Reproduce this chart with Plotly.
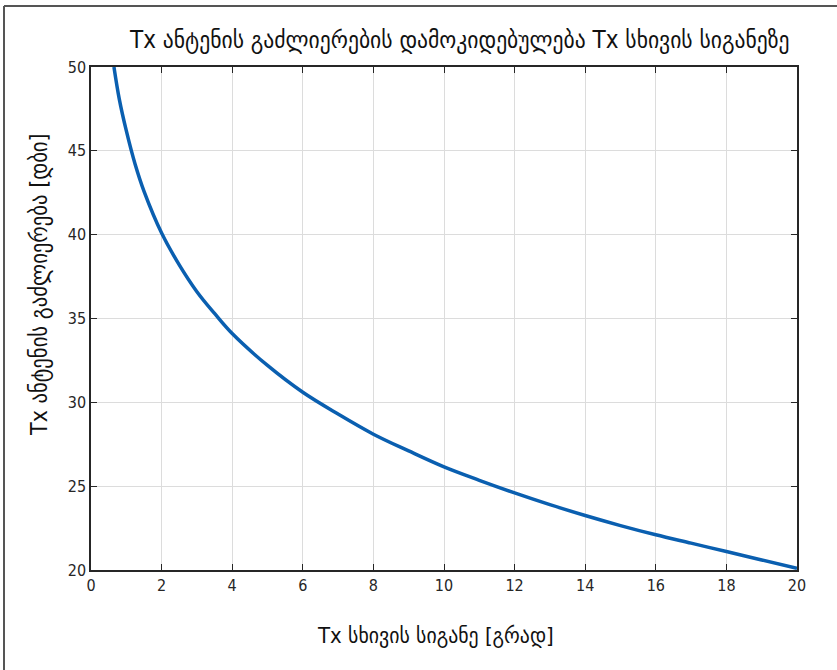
import plotly.graph_objects as go

beamwidth_deg = [0.65, 0.8, 1.0, 1.25, 1.5, 2.0, 2.5, 3.0, 3.5, 4.0, 5.0, 6.0, 7.0, 8.0,
                 9.0, 10.0, 11.0, 12.0, 13.0, 14.0, 15.0, 16.0, 17.0, 18.0, 19.0, 20.0]
gain_db = [50.0, 48.1, 46.2, 44.2, 42.6, 40.1, 38.2, 36.6, 35.3, 34.1, 32.2, 30.6, 29.3, 28.1,
           27.1, 26.15, 25.35, 24.6, 23.9, 23.25, 22.65, 22.1, 21.6, 21.1, 20.6, 20.1]

x_ticks = [0, 2, 4, 6, 8, 10, 12, 14, 16, 18, 20]
y_ticks = [20, 25, 30, 35, 40, 45, 50]

title_text = "Tx ანტენის გაძლიერების დამოკიდებულება Tx სხივის სიგანეზე"
x_title = "Tx სხივის სიგანე [გრად]"
y_title = "Tx ანტენის გაძლიერება [დბი]"

FONT = "Liberation Sans Narrow, DejaVu Sans Condensed, sans-serif"

fig = go.Figure()
fig.add_trace(go.Scatter(x=beamwidth_deg, y=gain_db, mode="lines",
                         line=dict(color="#0a5fb0", width=3.5, shape="spline", smoothing=1.0),
                         showlegend=False))

axis_common = dict(showline=True, linecolor="#262626", linewidth=1.5, mirror="ticks",
                   ticks="inside", ticklen=6, tickcolor="#262626",
                   showgrid=True, gridcolor="#dcdcdc", gridwidth=1, zeroline=False,
                   tickfont=dict(family=FONT, size=16, color="#262626"))

fig.update_xaxes(range=[0, 20], tickvals=x_ticks, **axis_common)
fig.update_yaxes(range=[20, 50], tickvals=y_ticks, **axis_common)

W, H = 837, 670
L, T = 91, 67
pw, ph = 706, 503
R = W - L - pw
B = H - T - ph

def px(xp):
    return (xp - L) / pw

def py(yp):
    return (H - B - yp) / ph

fig.update_layout(
    width=W, height=H,
    margin=dict(l=L, r=R, t=T, b=B),
    paper_bgcolor="white", plot_bgcolor="white",
    annotations=[
        dict(text=title_text, x=px(460), y=py(40), xref="paper", yref="paper",
             showarrow=False, xanchor="center", yanchor="middle",
             font=dict(family=FONT, size=24, color="#111111")),
        dict(text=x_title, x=px(435), y=py(635), xref="paper", yref="paper",
             showarrow=False, xanchor="center", yanchor="middle",
             font=dict(family=FONT, size=22, color="#111111")),
        dict(text=y_title, x=px(39), y=py(285), xref="paper", yref="paper",
             showarrow=False, xanchor="center", yanchor="middle", textangle=-90,
             font=dict(family=FONT, size=23, color="#111111")),
    ],
    shapes=[
        dict(type="line", xref="paper", yref="paper", x0=px(4), x1=px(845), y0=py(6), y1=py(6),
             line=dict(color="#555555", width=2)),
        dict(type="line", xref="paper", yref="paper", x0=px(4), x1=px(4), y0=py(6), y1=py(680),
             line=dict(color="#555555", width=2)),
    ],
)

fig.write_html("out.html",
               config={"displayModeBar": False},
               post_script="document.body.style.margin='0';document.body.style.padding='0';")
